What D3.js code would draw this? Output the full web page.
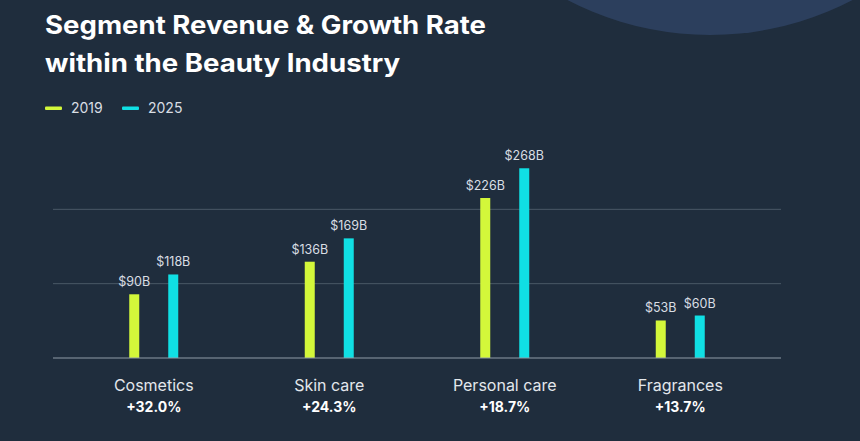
<!DOCTYPE html>
<html><head><meta charset="utf-8">
<script src="https://cdn.jsdelivr.net/npm/d3@7"></script>
<style>html,body{margin:0;padding:0;background:#1f2d3d;}svg{display:block;}</style>
</head><body>
<svg id="c" width="860" height="441"></svg>
<script>
const categories = ["Cosmetics", "Skin care", "Personal care", "Fragrances"];
const growth = ["+32.0%", "+24.3%", "+18.7%", "+13.7%"];
const seriesNames = ["2019", "2025"];
const values2019 = [90, 136, 226, 53];
const values2025 = [118, 169, 268, 60];
const gridValues = [105, 210];
const colors = {"2019": "#d3f73a", "2025": "#10dfe4"};

const svg = d3.select("#c");
const W = 860, H = 441;
svg.append("rect").attr("width", W).attr("height", H).attr("fill", "#1f2d3d");
svg.append("circle").attr("cx", 710).attr("cy", -273).attr("r", 308).attr("fill", "#2c3f5d");

// Title
const title = svg.append("g").attr("fill", "#ffffff").attr("font-family", "Inter, 'Open Sans', sans-serif").attr("font-weight", 700).attr("font-size", 25);
title.append("text").attr("x", 45).attr("y", 34).attr("textLength", 441).attr("lengthAdjust", "spacingAndGlyphs").text("Segment Revenue & Growth Rate");
title.append("text").attr("x", 45).attr("y", 72).attr("textLength", 355).attr("lengthAdjust", "spacingAndGlyphs").text("within the Beauty Industry");

// Legend
const legendX = [45, 122];
seriesNames.forEach((s, i) => {
  const g = svg.append("g").attr("transform", `translate(${legendX[i]},108)`);
  g.append("rect").attr("x", 0).attr("y", -1.5).attr("width", 17).attr("height", 3.5).attr("rx", 1).attr("fill", colors[s]);
  g.append("text").attr("x", 26).attr("y", 5).attr("fill", "#d9dee4").attr("font-family", "Inter, sans-serif").attr("font-size", 14).text(s);
});

// Scales
const y = d3.scaleLinear().domain([0, 315]).range([358, 135]);
const x0 = d3.scaleBand().domain(categories).range([66, 768]).padding(0);
const x1 = d3.scalePoint().domain(seriesNames).range([-19.5, 19.5]);
const barW = 10;

// Gridlines
svg.append("g").selectAll("line").data(gridValues).join("line")
  .attr("x1", 53).attr("x2", 781).attr("y1", d => y(d)).attr("y2", d => y(d))
  .attr("stroke", "#4a5867").attr("stroke-width", 1);

const data = categories.map((c, i) => ({cat: c, growth: growth[i], vals: [
  {s: "2019", v: values2019[i]}, {s: "2025", v: values2025[i]}]}));

const groups = svg.append("g").selectAll("g").data(data).join("g")
  .attr("transform", d => `translate(${x0(d.cat) + x0.bandwidth() / 2},0)`);

groups.selectAll("rect").data(d => d.vals).join("rect")
  .attr("x", d => x1(d.s) - barW / 2).attr("width", barW)
  .attr("y", d => y(d.v)).attr("height", d => y(0) - y(d.v))
  .attr("fill", d => colors[d.s]);

groups.selectAll("text.val").data(d => d.vals).join("text").attr("class", "val")
  .attr("x", d => x1(d.s)).attr("y", d => y(d.v) - 8)
  .attr("text-anchor", "middle").attr("fill", "#d9dee4")
  .attr("font-family", "Inter, sans-serif").attr("font-size", 12.5)
  .text(d => `$${d.v}B`);

// baseline
svg.append("line").attr("x1", 53).attr("x2", 781).attr("y1", y(0)).attr("y2", y(0))
  .attr("stroke", "#8f9ba8").attr("stroke-width", 1.2);

groups.append("text").attr("y", 391).attr("text-anchor", "middle")
  .attr("fill", "#e3e7ec").attr("font-family", "Inter, sans-serif").attr("font-size", 16)
  .text(d => d.cat);
groups.append("text").attr("y", 412).attr("text-anchor", "middle")
  .attr("fill", "#ffffff").attr("font-family", "Inter, sans-serif").attr("font-weight", 700).attr("font-size", 14)
  .text(d => d.growth);
</script>
</body></html>
